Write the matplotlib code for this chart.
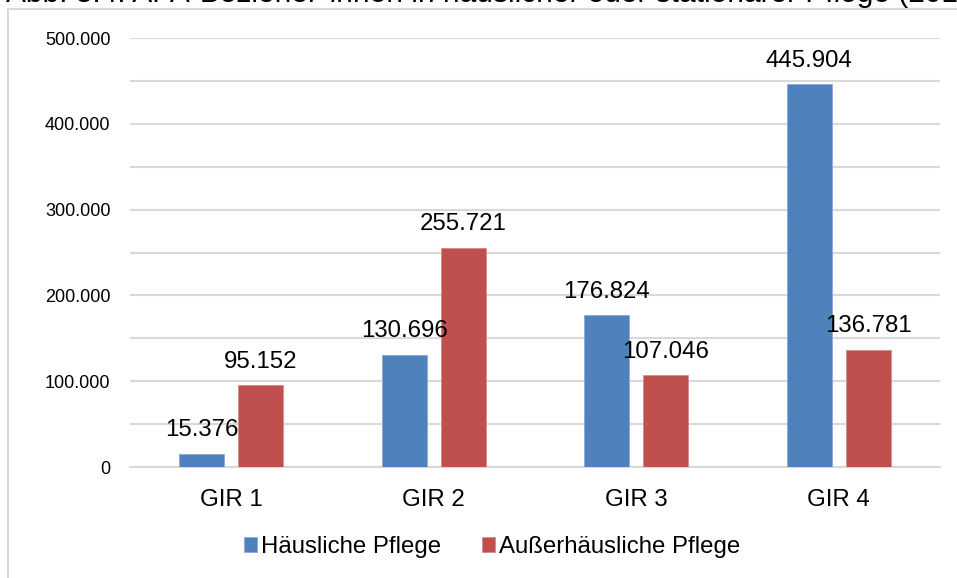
import matplotlib
matplotlib.use("Agg")
import matplotlib.pyplot as plt
from matplotlib.patches import Rectangle
from matplotlib.ticker import FuncFormatter
import numpy as np

plt.rcParams['font.family'] = ['Liberation Sans', 'DejaVu Sans']

categories = ["GIR 1", "GIR 2", "GIR 3", "GIR 4"]
haeuslich = [15376, 130696, 176824, 445904]
ausserhaeuslich = [95152, 255721, 107046, 136781]
series_names = ["Häusliche Pflege", "Außerhäusliche Pflege"]
title = "Abb. 3.4: APA-Bezieher*innen in häuslicher oder stationärer Pflege (2017)"

W, H = 957, 578
fig = plt.figure(figsize=(W/100, H/100), dpi=100)
ax = fig.add_axes([130/W, 1-467/H, 810/W, 429/H])

x = np.arange(len(categories))
bw = 0.222
gap = 0.069
off = (bw + gap) / 2
blue = "#4F81BD"
red = "#C0504D"
b1 = ax.bar(x - off, haeuslich, bw, color=blue, edgecolor="#8FAADC", linewidth=0.6, zorder=3, label=series_names[0])
b2 = ax.bar(x + off, ausserhaeuslich, bw, color=red, edgecolor="#D98A88", linewidth=0.6, zorder=3, label=series_names[1])

def fmt(v):
    return f"{int(v):,}".replace(",", ".")

for bars, vals in ((b1, haeuslich), (b2, ausserhaeuslich)):
    for r, v in zip(bars, vals):
        ax.annotate(fmt(v), (r.get_x() + r.get_width()/2, v), xytext=(0, 9),
                    textcoords="offset points", ha="center", va="bottom",
                    fontsize=17.3, color="#000000", zorder=4)

ax.set_xlim(-0.5, len(categories) - 0.5)
ax.set_ylim(0, 500000)
ax.set_yticks(np.arange(0, 500001, 100000))
ax.set_yticks(np.arange(0, 500001, 50000), minor=True)
ax.yaxis.set_major_formatter(FuncFormatter(lambda v, p: fmt(v)))
ax.grid(axis="y", which="both", color="#D9D9D9", linewidth=1.5, zorder=0)
ax.set_xticks(x)
ax.set_xticklabels(categories)
ax.tick_params(axis="y", which="both", length=0, labelsize=13, pad=14, labelcolor="#000000")
ax.tick_params(axis="x", length=0, labelsize=17.3, pad=16, labelcolor="#000000")
for s in ("top", "right", "left"):
    ax.spines[s].set_visible(False)
ax.spines["bottom"].set_color("#D9D9D9")
ax.spines["bottom"].set_linewidth(1.5)

fig.legend(handles=[b1, b2], labels=series_names, loc="center",
           bbox_to_anchor=(492/W, 1-547/H), ncol=2, frameon=False,
           fontsize=17.3, handlelength=0.55, handleheight=0.55,
           handletextpad=0.15, columnspacing=1.7)

# outer chart border (extends past right and bottom edges)
fig.patches.append(Rectangle((8/W, -0.05), 1.1, 1.05 - 9/H, transform=fig.transFigure,
                             fill=False, edgecolor="#D9D9D9", linewidth=1.5))
fig.text(6/W, 1-1.5/H, title, ha="left", va="baseline", fontsize=21.5, color="#000000")

fig.savefig("out.png", dpi=100)
